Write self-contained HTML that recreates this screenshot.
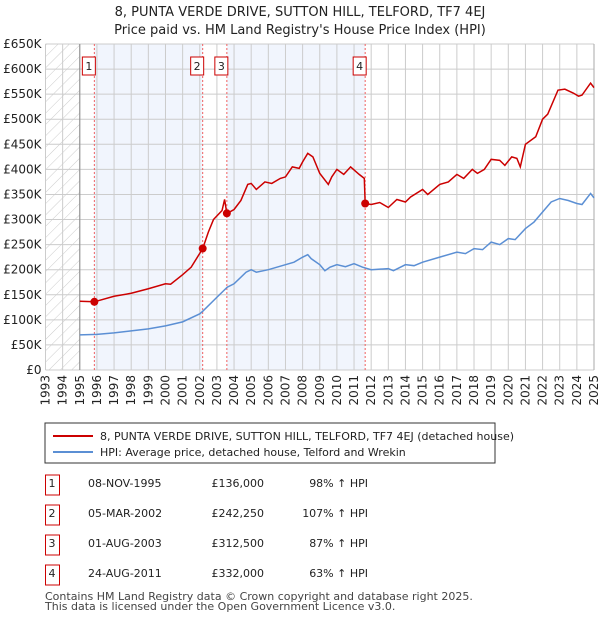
<!DOCTYPE html>
<html><head><meta charset="utf-8"><style>
body{margin:0;background:#fff;font-family:"Liberation Sans","DejaVu Sans",sans-serif;}
svg text{font-family:"DejaVu Sans","Liberation Sans",sans-serif;}
</style></head><body>
<svg id="c" width="600" height="620" xmlns="http://www.w3.org/2000/svg">
<defs><pattern id="hatch" width="8" height="8" patternUnits="userSpaceOnUse" patternTransform="rotate(45)"><line x1="0" y1="0" x2="0" y2="8" stroke="#ccc" stroke-width="1"/></pattern></defs>
<text x="300" y="16" text-anchor="middle" font-size="13" fill="#222">8, PUNTA VERDE DRIVE, SUTTON HILL, TELFORD, TF7 4EJ</text>
<text x="300" y="34" text-anchor="middle" font-size="13" fill="#222">Price paid vs. HM Land Registry's House Price Index (HPI)</text>
<g id="plot"></g>
<rect x="45" y="423" width="450" height="40" fill="#fff" stroke="#333"/>
<line x1="53" y1="436" x2="93" y2="436" stroke="#cc0000" stroke-width="2"/>
<text x="100" y="440" font-size="11" fill="#222">8, PUNTA VERDE DRIVE, SUTTON HILL, TELFORD, TF7 4EJ (detached house)</text>
<line x1="53" y1="452" x2="93" y2="452" stroke="#5b8fd4" stroke-width="2"/>
<text x="100" y="456" font-size="11" fill="#222">HPI: Average price, detached house, Telford and Wrekin</text>
<g id="table"></g>
<text x="45" y="600" font-size="11" fill="#444">Contains HM Land Registry data © Crown copyright and database right 2025.</text>
<text x="45" y="610" font-size="11" fill="#444">This data is licensed under the Open Government Licence v3.0.</text>
</svg>
<script>
const hpiYears=[1995,1996,1997,1998,1999,2000,2001,2002,2002.17,2003,2003.6,2004,2004.7,2005,2005.3,2006,2007,2007.5,2008,2008.3,2008.5,2009,2009.3,2009.6,2010,2010.5,2011,2011.5,2012,2013,2013.3,2014,2014.5,2015,2016,2017,2017.5,2018,2018.5,2019,2019.5,2020,2020.4,2021,2021.5,2022,2022.5,2023,2023.5,2024,2024.3,2024.8,2025];
const hpiValues=[70,71,74,78,82,88,96,112,117,145,165,172,195,200,195,200,210,215,225,230,222,210,198,205,210,206,212,205,200,202,198,210,208,215,225,235,232,242,240,255,250,262,260,282,295,315,335,342,338,332,330,352,343];
const priceYears=[1995,1995.85,1997,1998,1999,2000,2000.3,2001,2001.5,2002.17,2002.5,2002.8,2003.3,2003.45,2003.58,2004,2004.4,2004.8,2005,2005.3,2005.8,2006.2,2006.7,2007,2007.4,2007.8,2008,2008.3,2008.6,2009,2009.5,2009.7,2010,2010.4,2010.8,2011.3,2011.6,2011.65,2012,2012.5,2013,2013.5,2014,2014.3,2015,2015.3,2016,2016.5,2017,2017.4,2017.9,2018.2,2018.6,2019,2019.5,2019.8,2020.2,2020.5,2020.7,2021,2021.6,2022,2022.3,2022.9,2023.3,2023.8,2024.1,2024.3,2024.8,2025];
const priceValues=[137,136,147,153,162,172,171,190,205,242,275,300,318,340,312,320,338,370,372,360,375,372,382,385,405,402,415,432,425,392,370,385,400,390,405,390,382,332,330,334,324,340,335,345,360,350,370,375,390,382,400,392,400,420,418,408,425,422,405,450,465,500,510,558,560,552,546,548,572,563];
const saleLabels=["1","2","3","4"];
const saleYears=[1995.85,2002.17,2003.58,2011.65];
const salePrices=[136,242.25,312.5,332];
const saleDates=["08-NOV-1995","05-MAR-2002","01-AUG-2003","24-AUG-2011"];
const salePriceText=["£136,000","£242,250","£312,500","£332,000"];
const saleHpiText=["98% ↑ HPI","107% ↑ HPI","87% ↑ HPI","63% ↑ HPI"];
const yTicks=[0,50,100,150,200,250,300,350,400,450,500,550,600,650];
const yTickLabels=["£0","£50K","£100K","£150K","£200K","£250K","£300K","£350K","£400K","£450K","£500K","£550K","£600K","£650K"];
const xTicks=[1993,1994,1995,1996,1997,1998,1999,2000,2001,2002,2003,2004,2005,2006,2007,2008,2009,2010,2011,2012,2013,2014,2015,2016,2017,2018,2019,2020,2021,2022,2023,2024,2025];

const X0=45.5,X1=594,Y0=370,Y1=44;
const xs=y=>X0+(y-1993)/(2025-1993)*(X1-X0);
const ys=v=>Y0-v/650*(Y0-Y1);
const NS="http://www.w3.org/2000/svg";
const plot=document.getElementById('plot');
function mk(tag,attrs,parent){const e=document.createElementNS(NS,tag);for(const k in attrs)e.setAttribute(k,attrs[k]);(parent||plot).appendChild(e);return e;}

let r=mk('rect',{x:X0,y:Y1,width:X1-X0,height:Y0-Y1,fill:'#fff'});


r=mk('rect',{x:X0,y:Y1,width:xs(1995)-X0,height:Y0-Y1,fill:'url(#hatch)'});


r=mk('rect',{x:xs(saleYears[0]),y:Y1,width:xs(saleYears[1])-xs(saleYears[0]),height:Y0-Y1,fill:'#eef3fc',opacity:0.8});


r=mk('rect',{x:xs(saleYears[2]),y:Y1,width:xs(saleYears[3])-xs(saleYears[2]),height:Y0-Y1,fill:'#eef3fc',opacity:0.8});



yTicks.forEach((v,i)=>{
  const l=mk('line',{x1:X0,x2:X1,y1:ys(v),y2:ys(v),stroke:'#ccc','stroke-width':1});
  
  
  const t=mk('text',{x:X0-4,y:ys(v)+4,'text-anchor':'end','font-size':12,fill:'#222'});
  t.textContent=yTickLabels[i];
  
  
});
xTicks.forEach(y=>{
  const l=mk('line',{x1:xs(y),x2:xs(y),y1:Y1,y2:Y0,stroke:'#ccc','stroke-width':1});
  
  
  const t=mk('text',{x:0,y:0,'text-anchor':'end','font-size':12,fill:'#222',transform:`translate(${xs(y)+4},${Y0+5}) rotate(-90)`});
  t.textContent=y;
  
  
});
let ax=mk('line',{x1:xs(1995),x2:xs(1995),y1:Y1,y2:Y0,stroke:'#888'});


ax=mk('line',{x1:X1,x2:X1,y1:Y1,y2:Y0,stroke:'#aaa'});



saleYears.forEach((y,i)=>{
  const l=mk('line',{x1:xs(y),x2:xs(y),y1:Y1,y2:Y0,stroke:'#f06060','stroke-dasharray':'2,2'});
  
  
  const b=mk('rect',{x:xs(y)-12,y:57,width:13,height:18,fill:'#fff',stroke:'#cc0000'});
  
  
  const t=mk('text',{x:xs(y)-5.5,y:70,'text-anchor':'middle','font-size':11,fill:'#222'});
  t.textContent=saleLabels[i];
  
  
});

let p=mk('polyline',{points:hpiYears.map((y,i)=>xs(y)+','+ys(hpiValues[i])).join(' '),fill:'none',stroke:'#5b8fd4','stroke-width':1.5});


p=mk('polyline',{points:priceYears.map((y,i)=>xs(y)+','+ys(priceValues[i])).join(' '),fill:'none',stroke:'#cc0000','stroke-width':1.5});


saleYears.forEach((y,i)=>{
  const c=mk('circle',{cx:xs(y),cy:ys(salePrices[i]),r:4,fill:'#cc0000'});
  
  
});

const tb=document.getElementById('table');
const rowY=[485,515,545,575];
saleLabels.forEach((lab,i)=>{
  const cy=rowY[i];
  const b=mk('rect',{x:45.5,y:cy-10,width:14,height:20,fill:'#fff',stroke:'#cc0000'},tb);
  
  
  const cells=[[52,lab,'middle'],[88,saleDates[i],'start'],[264,salePriceText[i],'end'],[368,saleHpiText[i],'end']];
  cells.forEach(([x,s,a],j)=>{
    const t=mk('text',{x:x,y:cy+2,'text-anchor':a,'font-size':11,fill:'#222'},tb);
    t.textContent=s;
    
    
  });
});
</script>
</body></html>
